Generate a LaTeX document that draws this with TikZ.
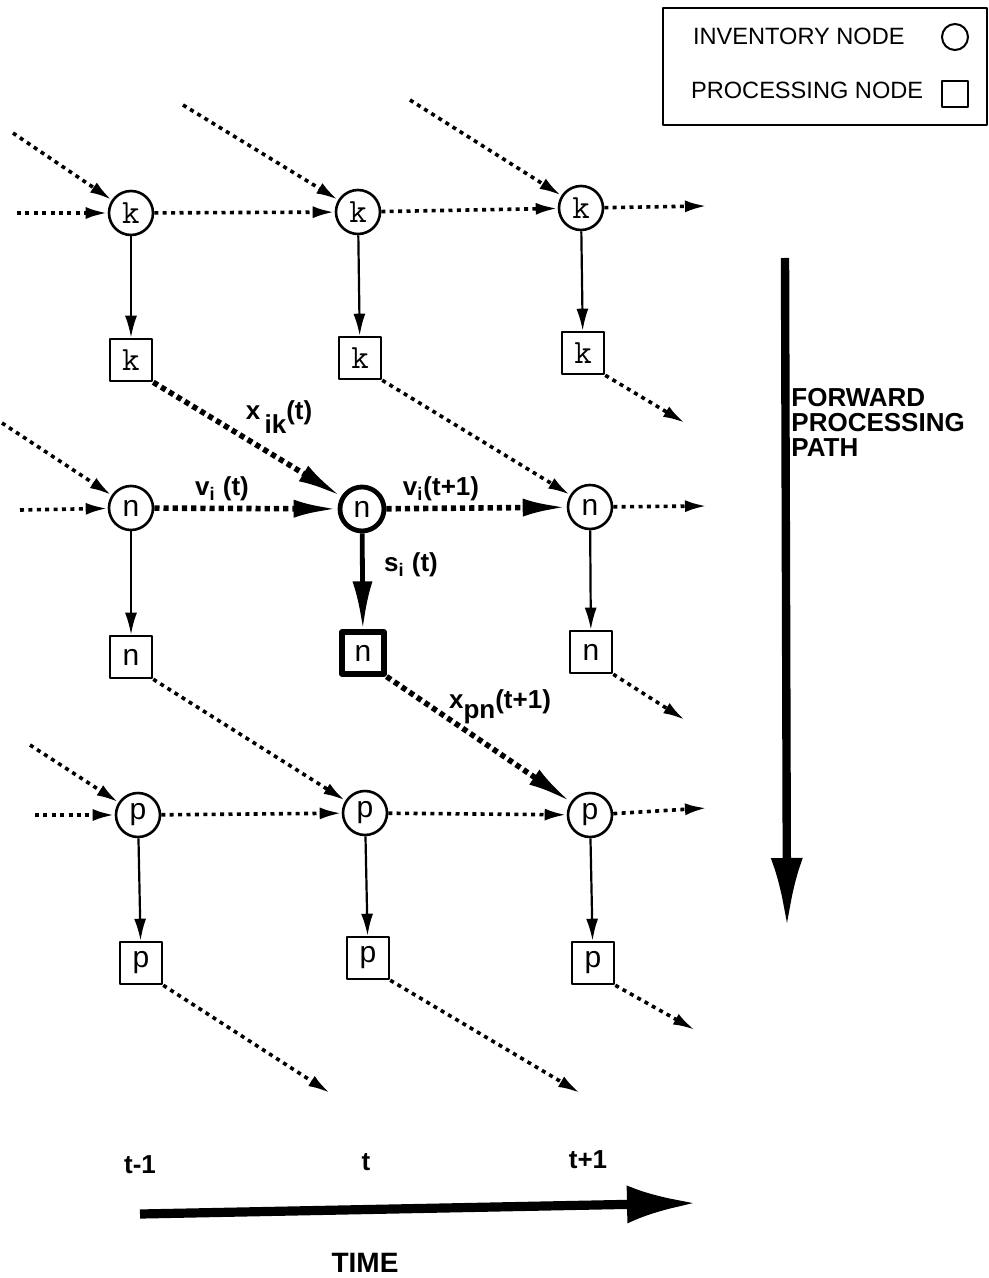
\documentclass[tikz,border=0pt]{standalone}
\usepackage{fontspec}
\setmainfont{Liberation Sans}
\usetikzlibrary{arrows.meta}

\newcommand\nodefont{\fontsize{15}{15}\selectfont}
\newcommand\kletter{\ttfamily\fontsize{17}{17}\selectfont}
\newcommand\lblfont{\bfseries\fontsize{13}{15}\selectfont}

\begin{document}
\begin{tikzpicture}[x=0.5pt,y=-0.5pt,line join=round,
  >={Latex[length=11pt,width=6pt]}]

  \tikzstyle{inv}=[circle,draw,line width=1.3pt,minimum size=22pt,inner sep=0pt,font=\nodefont];
  \tikzstyle{proc}=[rectangle,draw,line width=1.3pt,minimum size=21pt,inner sep=0pt,font=\nodefont];
  \tikzstyle{flow}=[->,line width=1.8pt,dash pattern=on 2pt off 2.2pt];
  \tikzstyle{feed}=[->,line width=1.1pt];
  \tikzstyle{hot}=[line width=2.8pt,dash pattern=on 2.6pt off 2pt,-{Latex[length=22pt,width=9pt]}];
  \tikzstyle{lbl}=[font=\lblfont,inner sep=0pt];
  \tikzstyle{big}=[line width=4.2pt,-{Latex[length=35pt,width=16pt]}];

  \useasboundingbox (0,0) rectangle (989,1278);

  % inventory and processing nodes, three periods
  \node[inv,font=\kletter]  (ik1) at (131,213) {k};
  \node[inv,font=\kletter]  (ik2) at (358,212) {k};
  \node[inv,font=\kletter]  (ik3) at (581,208) {k};
  \node[proc,font=\kletter] (pk1) at (131,360) {k};
  \node[proc,font=\kletter] (pk2) at (360,358) {k};
  \node[proc,font=\kletter] (pk3) at (583,353) {k};

  \node[inv]  (in1) at (131,508) {n};
  \node[inv,line width=2.4pt] (in2) at (362,509) {n};
  \node[inv]  (in3) at (590,507) {n};
  \node[proc] (pn1) at (131,657) {n};
  \node[proc,line width=2.6pt] (pn2) at (363,653) {n};
  \node[proc] (pn3) at (591,652) {n};

  \node[inv]  (ip1) at (138,815) {p};
  \node[inv]  (ip2) at (365,813) {p};
  \node[inv]  (ip3) at (590,815) {p};
  \node[proc] (pp1) at (141,963) {p};
  \node[proc] (pp2) at (368,958) {p};
  \node[proc] (pp3) at (593,963) {p};

  % loose ends of the flows
  \coordinate (k0)  at (17,213);
  \coordinate (k0d) at (13,133);
  \coordinate (k1d) at (183,105);
  \coordinate (k2d) at (410,100);
  \coordinate (k4)  at (707,206);
  \coordinate (k3x) at (685,423);
  \coordinate (n0)  at (20,510);
  \coordinate (n0d) at (2,423);
  \coordinate (n4)  at (707,506);
  \coordinate (n3x) at (685,720);
  \coordinate (p0)  at (35,815);
  \coordinate (p0d) at (30,745);
  \coordinate (p4)  at (707,808);
  \coordinate (p1x) at (330,1093);
  \coordinate (p2x) at (580,1093);
  \coordinate (p3x) at (695,1030);

  \path[flow]
    (k0)  edge (ik1)
    (k0d) edge (ik1)
    (k1d) edge (ik2)
    (k2d) edge (ik3)
    (ik1) edge (ik2)
    (ik2) edge (ik3)
    (ik3) edge (k4)
    (pk2.south east) edge (in3)
    (pk3.south east) edge (k3x)
    (n0)  edge (in1)
    (n0d) edge (in1)
    (in3) edge (n4)
    (pn1.south east) edge (ip2)
    (pn3.south east) edge (n3x)
    (p0)  edge (ip1)
    (p0d) edge (ip1)
    (ip1) edge (ip2)
    (ip2) edge (ip3)
    (ip3) edge (p4)
    (pp1.south east) edge (p1x)
    (pp2.south east) edge (p2x)
    (pp3.south east) edge (p3x)
  ;

  \path[feed]
    (ik1) edge (pk1)
    (ik2) edge (pk2)
    (ik3) edge (pk3)
    (in1) edge (pn1)
    (in3) edge (pn3)
    (ip1) edge (pp1)
    (ip2) edge (pp2)
    (ip3) edge (pp3)
  ;

  % the path through item n at time t
  \path[hot]
    (pk1.south east) edge (in2)
    (in1) edge (in2)
    (in2) edge (in3)
    (pn2.south east) edge (ip3)
  ;
  \draw[line width=2.4pt,-{Latex[length=24pt,width=10pt]}] (in2) -- (pn2);

  \node[lbl] (xik) at (279,417) {x\,\raisebox{-0.55em}{ik}(t)};
  \node[lbl] (vt)  at (222,489) {v\textsubscript{i} (t)};
  \node[lbl] (vt1) at (441,489) {v\textsubscript{i}(t+1)};
  \node[lbl] (st)  at (411,565) {s\textsubscript{i} (t)};
  \node[lbl] (xpn) at (500,707) {x\raisebox{-0.4em}{pn}(t+1)};

  % legend
  \draw[line width=1pt] (663,8) rectangle (987,125);
  \node[anchor=west,font=\fontsize{11.8}{12}\selectfont] (invtxt) at (686,36) {INVENTORY NODE};
  \node[anchor=west,font=\fontsize{11.8}{12}\selectfont] (proctxt) at (684,90) {PROCESSING NODE};
  \node[circle,draw,line width=1pt,minimum size=13pt,inner sep=0pt] (invkey) at (955,37) {};
  \node[rectangle,draw,line width=1pt,minimum size=13pt,inner sep=0pt] (prockey) at (955,94) {};

  % axes
  \coordinate (fwd0) at (785,258);
  \coordinate (fwd1) at (787,928);
  \draw[big] (fwd0) -- (fwd1);
  \node[lbl,anchor=north west,align=left,font=\bfseries\fontsize{13}{12.5}\selectfont] (fwdtxt) at (791,388)
    {FORWARD\\PROCESSING\\PATH};

  \node[lbl] (tm1) at (140,1165) {t-1};
  \node[lbl] (t0)  at (366,1162) {t};
  \node[lbl] (tp1) at (588,1160) {t+1};

  \coordinate (time0) at (140,1214);
  \coordinate (time1) at (697,1203);
  \draw[big,line width=4.6pt,-{Latex[length=35pt,width=19pt]}] (time0) -- (time1);
  \node[lbl,anchor=base,font=\bfseries\fontsize{14}{14}\selectfont] (timetxt) at (365,1272) {TIME};

\end{tikzpicture}
\end{document}
